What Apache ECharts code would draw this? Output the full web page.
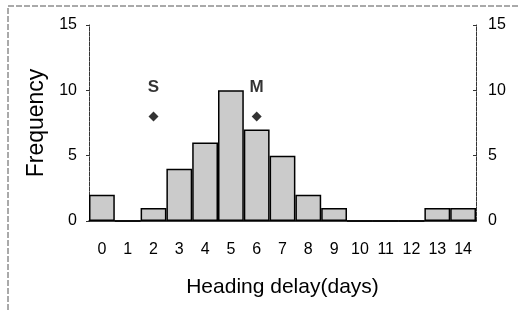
<!DOCTYPE html>
<html><head><meta charset="utf-8">
<script src="https://cdn.jsdelivr.net/npm/echarts@6/dist/echarts.min.js"></script>
<style>html,body{margin:0;padding:0;background:#fff}#c{width:518px;height:312px}</style>
</head><body><div id="c"></div>
<script>
const categories = ['0','1','2','3','4','5','6','7','8','9','10','11','12','13','14'];
const frequency = [2,0,1,4,6,10,7,5,2,1,0,0,0,1,1];
const markerCats = ['2','6'];
const markerValues = [8,8];
const markerLabels = ['S','M'];
const yTicks = {min:0, max:15, interval:5};

const chart = echarts.init(document.getElementById('c'), null, {renderer:'canvas'});
const font = 'Liberation Sans, Arial, sans-serif';
chart.setOption({
  animation:false,
  backgroundColor:'#fff',
  graphic:[{type:'rect',shape:{x:8,y:6,width:530,height:330},style:{fill:'none',stroke:'#555',lineWidth:1,lineDash:[6,2]},silent:true}],
  grid:{left:89,right:42,top:25,bottom:91,containLabel:false},
  xAxis:{type:'category',data:categories,boundaryGap:true,
    axisLine:{lineStyle:{color:'#000',width:1.5}},
    axisTick:{show:false},
    axisLabel:{color:'#000',fontSize:16,fontFamily:font,margin:21},
    name:'Heading delay(days)',nameLocation:'middle',nameGap:56,
    nameTextStyle:{color:'#000',fontSize:21,fontFamily:font}},
  yAxis:[
    {type:'value',min:yTicks.min,max:yTicks.max,interval:yTicks.interval,position:'left',
     axisLine:{show:true,lineStyle:{color:'#333',width:1,type:[4,1]}},
     axisTick:{show:true,inside:false,length:3,lineStyle:{color:'#333'}},
     splitLine:{show:false},
     axisLabel:{color:'#000',fontSize:16,fontFamily:font,margin:12},
     name:'Frequency',nameLocation:'middle',nameGap:36,nameRotate:90,
     nameTextStyle:{color:'#000',fontSize:23,fontFamily:font}},
    {type:'value',min:yTicks.min,max:yTicks.max,interval:yTicks.interval,position:'right',
     axisLine:{show:true,lineStyle:{color:'#333',width:1,type:[4,1]}},
     axisTick:{show:true,inside:true,length:3,lineStyle:{color:'#333'}},
     splitLine:{show:false},
     axisLabel:{color:'#000',fontSize:16,fontFamily:font,margin:12}}
  ],
  series:[
    {type:'bar',data:frequency,barCategoryGap:'0%',
     itemStyle:{color:'#cbcbcb',borderColor:'#000',borderWidth:1.5},z:2},
    {type:'scatter',data:markerCats.map((c,i)=>[c,markerValues[i]]),
     symbol:'diamond',symbolSize:10,itemStyle:{color:'#000'},z:3,
     label:{show:true,position:'top',distance:16,color:'#000',fontSize:17,fontWeight:'bold',fontFamily:font,
       formatter:p=>markerLabels[p.dataIndex]}}
  ]
});
</script></body></html>
